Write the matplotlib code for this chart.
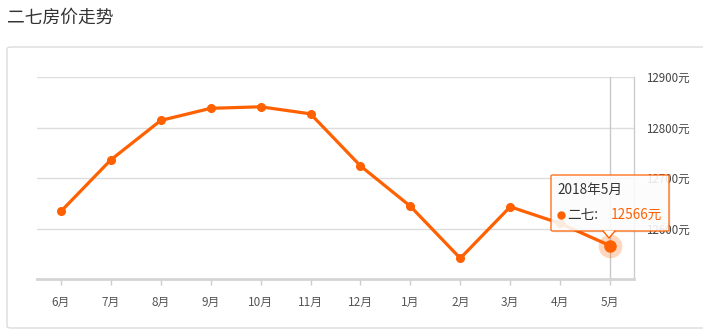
import matplotlib
matplotlib.use("Agg")
import matplotlib.pyplot as plt
from matplotlib.patches import FancyBboxPatch, Polygon
from matplotlib.lines import Line2D

plt.rcParams['font.family'] = ['Noto Sans CJK SC', 'DejaVu Sans']

title = "二七房价走势"
months = ["6月", "7月", "8月", "9月", "10月", "11月", "12月", "1月", "2月", "3月", "4月", "5月"]
prices = [12634, 12736, 12814, 12838, 12841, 12827, 12724, 12644, 12541, 12643, 12610, 12566]
yticks = [12600, 12700, 12800, 12900]
series_name = "二七"
tip_title = "2018年5月"

W, H = 703, 334
fig = plt.figure(figsize=(W / 100, H / 100), dpi=100)
fig.patch.set_facecolor("white")

def px(x, y):
    return x / W, 1 - y / H

# outer rounded box
box = FancyBboxPatch(px(7, 328), (720 - 7) / W, (328 - 47) / H,
                     boxstyle="round,pad=0,rounding_size=0.006",
                     transform=fig.transFigure, facecolor="white",
                     edgecolor="#dcdcdc", linewidth=1.0, zorder=0)
fig.add_artist(box)

fig.text(7 / W, 1 - 18 / H, title, fontsize=12.8, color="#333333",
         ha="left", va="center")

ax = fig.add_axes([37 / W, 1 - 279 / H, (634 - 37) / W, (279 - 77) / H])
ax.set_facecolor("none")
orange = "#ff6000"
x = list(range(len(months)))
ax.set_xlim(-0.48, 11.48)
ax.set_ylim(12500, 12900)

for s in ["top", "left"]:
    ax.spines[s].set_visible(False)
ax.spines["right"].set_color("#cccccc")
ax.spines["right"].set_linewidth(1.0)
ax.spines["bottom"].set_color("#d4d4d4")
ax.spines["bottom"].set_linewidth(2.0)

ax.set_yticks(yticks)
ax.set_yticklabels([f"{v}元" for v in yticks])
ax.yaxis.tick_right()
ax.tick_params(axis="y", length=0, pad=9, labelsize=8.3, labelcolor="#444444")
ax.set_xticks(x)
ax.set_xticklabels(months)
ax.tick_params(axis="x", length=4, width=1, color="#cccccc", pad=8,
               labelsize=8.5, labelcolor="#555555")
ax.grid(axis="y", color="#dddddd", linewidth=1)
ax.set_axisbelow(True)

ax.axvline(x[-1], color="#c8c8c8", linewidth=1, zorder=1)
ax.plot(x, prices, color=orange, linewidth=2.3, marker="o", markersize=5.5,
        zorder=3, solid_joinstyle="round")
ax.plot(x[-1], prices[-1], "o", color=orange, markersize=17, alpha=0.25, zorder=4,
        markeredgewidth=0)
ax.plot(x[-1], prices[-1], "o", color=orange, markersize=9, zorder=5,
        markeredgewidth=0)

# tooltip
tx0, ty0, tx1, ty1 = 551, 175, 669, 231
shadow = FancyBboxPatch(px(tx0 + 1.5, ty1 + 1.5), (tx1 - tx0) / W, (ty1 - ty0) / H,
                        boxstyle="round,pad=0,rounding_size=0.003",
                        transform=fig.transFigure, facecolor="#000000",
                        edgecolor="none", alpha=0.08, zorder=5)
fig.add_artist(shadow)
tip = FancyBboxPatch(px(tx0, ty1), (tx1 - tx0) / W, (ty1 - ty0) / H,
                     boxstyle="round,pad=0,rounding_size=0.003",
                     transform=fig.transFigure, facecolor="white",
                     edgecolor=orange, linewidth=1.0, alpha=0.88, zorder=6)
fig.add_artist(tip)
tri = Polygon([px(603, ty1 - 0.5), px(615, ty1 - 0.5), px(609, 238)], closed=True,
              transform=fig.transFigure, facecolor="white", edgecolor="none",
              zorder=7)
fig.add_artist(tri)
fig.add_artist(Line2D([603 / W, 609 / W, 615 / W],
                      [1 - ty1 / H, 1 - 238 / H, 1 - ty1 / H],
                      transform=fig.transFigure, color=orange, linewidth=1.0,
                      zorder=8))
fig.text(557 / W, 1 - 190 / H, tip_title, fontsize=9.8, color="#333333",
         ha="left", va="center", zorder=9)
fig.add_artist(Line2D([561 / W], [1 - 215 / H], marker="o", markersize=5,
                      color=orange, transform=fig.transFigure, zorder=9))
fig.text(567 / W, 1 - 215 / H, f"{series_name}:", fontsize=9.8, color="#333333",
         ha="left", va="center", zorder=9)
fig.text(611 / W, 1 - 215 / H, f"{prices[-1]}元", fontsize=9.8, color=orange,
         ha="left", va="center", zorder=9)

fig.savefig("out.png", dpi=100)
